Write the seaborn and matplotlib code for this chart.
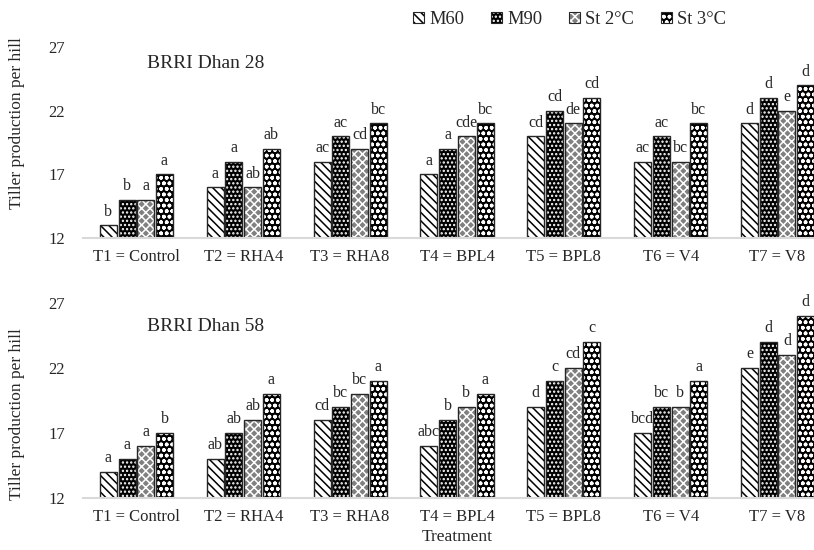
import pandas as pd
import seaborn as sns
import matplotlib.pyplot as plt
from matplotlib.patches import Patch, Rectangle


# Chart values
treatments = ["T1 = Control", "T2 = RHA4", "T3 = RHA8", "T4 = BPL4",
              "T5 = BPL8", "T6 = V4", "T7 = V8"]
series = ["M60", "M90", "St 2°C", "St 3°C"]

dhan28_m60 = [13, 16, 18, 17, 20, 18, 21]
dhan28_m90 = [15, 18, 20, 19, 22, 20, 23]
dhan28_st2 = [15, 16, 19, 20, 21, 18, 22]
dhan28_st3 = [17, 19, 21, 21, 23, 21, 24]
letters28_m60 = ["b", "a", "ac", "a", "cd", "ac", "d"]
letters28_m90 = ["b", "a", "ac", "a", "cd", "ac", "d"]
letters28_st2 = ["a", "ab", "cd", "cde", "de", "bc", "e"]
letters28_st3 = ["a", "ab", "bc", "bc", "cd", "bc", "d"]

dhan58_m60 = [14, 15, 18, 16, 19, 17, 22]
dhan58_m90 = [15, 17, 19, 18, 21, 19, 24]
dhan58_st2 = [16, 18, 20, 19, 22, 19, 23]
dhan58_st3 = [17, 20, 21, 20, 24, 21, 26]
letters58_m60 = ["a", "ab", "cd", "abc", "d", "bcd", "e"]
letters58_m90 = ["a", "ab", "bc", "b", "c", "bc", "d"]
letters58_st2 = ["a", "ab", "bc", "b", "cd", "b", "d"]
letters58_st3 = ["b", "a", "a", "a", "c", "a", "d"]

yticks = [12, 17, 22, 27]

# bar styling per series: face colour, hatch, hatch colour
faces = ["white", "black", "#808080", "black"]
hatches = ["\\\\\\\\", "....", "xxxx", "ooo"]
hatch_colors = ["black", "white", "white", "white"]
outline = "#262626"


def long_table(m60, m90, st2, st3):
    rows = []
    for name, vals in zip(series, [m60, m90, st2, st3]):
        for t, v in zip(treatments, vals):
            rows.append({"Treatment": t, "Series": name, "Tillers": v})
    return pd.DataFrame(rows)


sns.set_style("white")
plt.rcParams["font.family"] = ["Liberation Serif", "DejaVu Serif"]
plt.rcParams["hatch.linewidth"] = 1.1

fig = plt.figure(figsize=(8.14, 5.5), dpi=100)
ax1 = fig.add_axes([83 / 814, 1 - 238 / 550, 748 / 814, 191 / 550])
ax2 = fig.add_axes([83 / 814, 1 - 498 / 550, 748 / 814, 195 / 550])

panels = [
    (ax1, long_table(dhan28_m60, dhan28_m90, dhan28_st2, dhan28_st3),
     [letters28_m60, letters28_m90, letters28_st2, letters28_st3],
     "BRRI Dhan 28", 0.915, 0.6),
    (ax2, long_table(dhan58_m60, dhan58_m90, dhan58_st2, dhan58_st3),
     [letters58_m60, letters58_m90, letters58_st2, letters58_st3],
     "BRRI Dhan 58", 0.877, 0.43),
]

for ax, df, letters, title, title_y, ylab_y in panels:
    sns.barplot(data=df, x="Treatment", y="Tillers", hue="Series",
                hue_order=series, palette=dict(zip(series, faces)),
                saturation=1, width=0.7, gap=0.09, errorbar=None,
                legend=False, ax=ax)
    for i, cont in enumerate(ax.containers):
        for bar in cont:
            bar.set_hatch(hatches[i])
            bar.set_edgecolor(hatch_colors[i])
            bar.set_linewidth(0)
            # dark outline on top, since the hatch colour follows the edge colour
            ax.add_patch(Rectangle(bar.get_xy(), bar.get_width(), bar.get_height(),
                                   fill=False, edgecolor=outline, lw=1,
                                   zorder=bar.get_zorder() + 0.1))
        ax.bar_label(cont, labels=letters[i], padding=4, fontsize=11.5)

    ax.set_ylim(12, 27)
    ax.set_yticks(yticks)
    ax.set_xlim(-0.5, 6.5)
    ax.tick_params(axis="both", length=0, labelsize=12)
    ax.tick_params(axis="y", pad=13)
    ax.tick_params(axis="x", pad=8)
    for s in ["top", "right", "left"]:
        ax.spines[s].set_visible(False)
    ax.spines["bottom"].set_color("#d9d9d9")
    ax.spines["bottom"].set_linewidth(1.5)
    ax.set_ylabel("Tiller production per hill", fontsize=12.5)
    ax.yaxis.set_label_coords(-0.0775, ylab_y)
    ax.set_xlabel("")
    ax.text(0.085, title_y, title, transform=ax.transAxes, fontsize=14,
            ha="left", va="center")

ax2.set_xlabel("Treatment", fontsize=12.5, labelpad=3)

handles = [(Patch(facecolor=f, edgecolor=c, hatch=h, linewidth=0),
            Patch(fill=False, edgecolor=outline, linewidth=0.8))
           for f, h, c in zip(faces, hatches, hatch_colors)]
fig.legend(handles, series, loc="upper left", bbox_to_anchor=(404 / 814, 0.997),
           ncol=4, frameon=False, fontsize=13.3, handlelength=0.6,
           handleheight=0.6, handletextpad=0.27, columnspacing=1.45,
           borderaxespad=0.1)

fig.savefig("out.png", dpi=100)
